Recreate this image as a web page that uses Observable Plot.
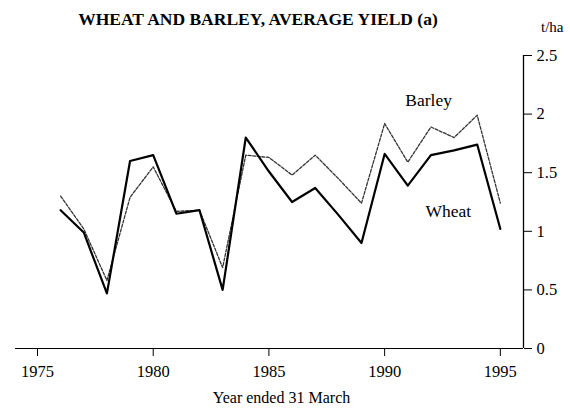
<!DOCTYPE html>
<html>
<head>
<meta charset="utf-8">
<script src="https://cdn.jsdelivr.net/npm/d3@7"></script>
<script src="https://cdn.jsdelivr.net/npm/@observablehq/plot@0.6"></script>
<style>
  html, body { margin: 0; padding: 0; background: #fff; }
  #wrap { position: relative; width: 570px; height: 415px; font-family: "Liberation Serif", "DejaVu Serif", serif; }
  #title { position: absolute; left: 0; top: 9px; width: 516px; text-align: center; font-weight: bold; font-size: 17.5px; color: #000; white-space: nowrap; }
  #unit { position: absolute; left: 541px; top: 19px; font-size: 15px; color: #000; }
  #chart { position: absolute; left: 0; top: 0; }
</style>
</head>
<body>
<div id="wrap">
  <div id="chart"></div>
  <div id="title">WHEAT AND BARLEY, AVERAGE YIELD (a)</div>
  <div id="unit">t/ha</div>
</div>
<script>
const years  = [1976,1977,1978,1979,1980,1981,1982,1983,1984,1985,1986,1987,1988,1989,1990,1991,1992,1993,1994,1995];
const wheat  = [1.18,0.99,0.47,1.60,1.65,1.15,1.18,0.50,1.80,1.51,1.25,1.37,1.14,0.90,1.66,1.39,1.65,1.69,1.74,1.02];
const barley = [1.30,1.02,0.58,1.29,1.55,1.17,1.18,0.69,1.65,1.63,1.48,1.65,1.45,1.24,1.92,1.59,1.89,1.80,1.99,1.24];
const xTicks = [1975,1980,1985,1990,1995];
const yTicks = [0,0.5,1,1.5,2,2.5];
const xTitle = "Year ended 31 March";
const seriesLabels = [
  {name: "Barley", year: 1991.9, value: 2.12},
  {name: "Wheat",  year: 1992.75, value: 1.17}
];

const wheatData = years.map((y, i) => ({year: y, value: wheat[i]}));
const barleyData = years.map((y, i) => ({year: y, value: barley[i]}));

const chart = Plot.plot({
  width: 570,
  height: 415,
  marginTop: 55,
  marginBottom: 67,
  marginLeft: 15,
  marginRight: 47,
  style: {fontFamily: "'Liberation Serif', serif", fontSize: "16px", color: "#000", background: "#fff"},
  x: {domain: [1974.05, 1996]},
  y: {domain: [0, 2.5]},
  marks: [
    Plot.ruleY([0], {stroke: "#000", strokeWidth: 1.2}),
    Plot.ruleX([1996], {y1: 0, y2: 2.5, stroke: "#000", strokeWidth: 1.3}),
    Plot.axisX({ticks: xTicks, tickFormat: d => String(d), tickSize: 8, tickPadding: 9, fontSize: 16.5, label: null}),
    Plot.axisY({anchor: "right", ticks: yTicks, tickFormat: d => String(d), tickSize: 8, tickPadding: 5, fontSize: 16.5, label: null}),
    Plot.text([xTitle], {frameAnchor: "bottom", dy: 54, dx: 12, fontSize: 16, fill: "#000"}),
    Plot.line(barleyData, {x: "year", y: "value", stroke: "#333", strokeWidth: 1.3, strokeDasharray: "3,1.6"}),
    Plot.line(wheatData, {x: "year", y: "value", stroke: "#000", strokeWidth: 2.2}),
    Plot.text(seriesLabels, {x: "year", y: "value", text: "name", fontSize: 17.5, fill: "#000"})
  ]
});
document.getElementById("chart").appendChild(chart);
</script>
</body>
</html>
